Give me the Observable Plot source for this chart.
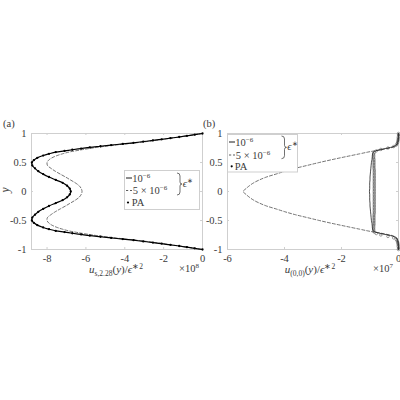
<!DOCTYPE html>
<html><head><meta charset="utf-8">
<script src="https://cdn.jsdelivr.net/npm/d3@7"></script>
<script src="https://cdn.jsdelivr.net/npm/@observablehq/plot@0.6"></script>
<style>
html,body{margin:0;padding:0;background:#fff;}
#wrap{position:relative;width:400px;height:400px;overflow:hidden;background:#fff;font-family:"Liberation Serif",serif;}
#wrap > svg{position:absolute;}
</style></head><body><div id="wrap"></div>
<script>
// ---------- data ----------
const yTicks = [-1, -0.5, 0, 0.5, 1];
const xTicksA = [-8, -6, -4, -2, 0];
const xTicksB = [-6, -4, -2, 0];

// panel (a): u_{s,2.28}(y)/eps*^2  (x 1e8)
const yA = [1, 0.98, 0.96, 0.94, 0.92, 0.9, 0.88, 0.86, 0.84, 0.82, 0.8, 0.78, 0.76, 0.74, 0.72, 0.7, 0.68, 0.65, 0.62, 0.58, 0.54, 0.5, 0.45, 0.4, 0.35, 0.3, 0.25, 0.2, 0.15, 0.1, 0.05, 0,
  -0.05, -0.1, -0.15, -0.2, -0.25, -0.3, -0.35, -0.4, -0.45, -0.5, -0.54, -0.58, -0.62, -0.65, -0.68, -0.7, -0.72, -0.74, -0.76, -0.78, -0.8, -0.82, -0.84, -0.86, -0.88, -0.9, -0.92, -0.94, -0.96, -0.98, -1];
const uSolidA = [0, -0.4, -0.8, -1.2, -1.65, -2.1, -2.55, -3.05, -3.55, -4.1, -4.7, -5.25, -5.8, -6.25, -6.7, -7.1, -7.55, -7.9, -8.2, -8.5, -8.68, -8.78, -8.76, -8.62, -8.45, -8.2, -7.9, -7.55, -7.2, -6.97, -6.83, -6.78,
  -6.83, -6.97, -7.2, -7.55, -7.9, -8.2, -8.45, -8.62, -8.76, -8.78, -8.68, -8.5, -8.2, -7.9, -7.55, -7.1, -6.7, -6.25, -5.8, -5.25, -4.7, -4.1, -3.55, -3.05, -2.55, -2.1, -1.65, -1.2, -0.8, -0.4, 0];
const uDashA = [0, -0.39, -0.78, -1.17, -1.6, -2.0, -2.45, -2.9, -3.4, -3.95, -4.5, -5.0, -5.45, -5.85, -6.22, -6.55, -6.87, -7.2, -7.48, -7.75, -7.92, -8.0, -7.98, -7.8, -7.58, -7.32, -7.05, -6.8, -6.55, -6.35, -6.24, -6.2,
  -6.24, -6.35, -6.55, -6.8, -7.05, -7.32, -7.58, -7.8, -7.98, -8.0, -7.92, -7.75, -7.48, -7.2, -6.87, -6.55, -6.22, -5.85, -5.45, -5.0, -4.5, -3.95, -3.4, -2.9, -2.45, -2.0, -1.6, -1.17, -0.78, -0.39, 0];
const uPAA = uSolidA;

// panel (b): u_{(0,0)}(y)/eps*^2  (x 1e7)
const yB = [1, 0.95, 0.9, 0.85, 0.8, 0.78, 0.76, 0.74, 0.72, 0.7, 0.68, 0.65, 0.6, 0.55, 0.5, 0.45, 0.4, 0.35, 0.3, 0.25, 0.2, 0.15, 0.1, 0.05, 0,
  -0.05, -0.1, -0.15, -0.2, -0.25, -0.3, -0.35, -0.4, -0.45, -0.5, -0.55, -0.6, -0.65, -0.68, -0.7, -0.72, -0.74, -0.76, -0.78, -0.8, -0.85, -0.9, -0.95, -1];
const uSolidB = [0, 0, -0.01, -0.03, -0.08, -0.15, -0.28, -0.48, -0.66, -0.8, -0.88, -0.91, -0.92, -0.93, -0.95, -0.96, -0.97, -0.98, -0.99, -1.0, -1.0, -1.01, -1.01, -1.01, -1.02,
  -1.01, -1.01, -1.01, -1.0, -1.0, -0.99, -0.98, -0.97, -0.96, -0.95, -0.93, -0.92, -0.91, -0.88, -0.8, -0.66, -0.48, -0.28, -0.15, -0.08, -0.03, -0.01, 0, 0];
const uDashB = [0, 0, -0.01, -0.02, -0.06, -0.12, -0.22, -0.4, -0.6, -0.85, -1.07, -1.36, -1.85, -2.33, -2.78, -3.2, -3.62, -3.98, -4.3, -4.63, -4.88, -5.08, -5.23, -5.35, -5.45,
  -5.35, -5.23, -5.08, -4.88, -4.63, -4.3, -3.98, -3.62, -3.2, -2.78, -2.33, -1.85, -1.36, -1.07, -0.85, -0.6, -0.4, -0.22, -0.12, -0.06, -0.02, -0.01, 0, 0];
const yPB = [1, 0.975, 0.95, 0.925, 0.9, 0.875, 0.85, 0.825, 0.8, 0.775, 0.75, 0.725, 0.7, 0.675, 0.65, 0.625, 0.6, 0.575, 0.55, 0.525, 0.5, 0.475, 0.45, 0.425, 0.4, 0.375, 0.35, 0.325, 0.3, 0.275, 0.25, 0.225, 0.2, 0.175, 0.15, 0.125, 0.1, 0.075, 0.05, 0.025, 0,
  -0.025, -0.05, -0.075, -0.1, -0.125, -0.15, -0.175, -0.2, -0.225, -0.25, -0.275, -0.3, -0.325, -0.35, -0.375, -0.4, -0.425, -0.45, -0.475, -0.5, -0.525, -0.55, -0.575, -0.6, -0.625, -0.65, -0.675, -0.7, -0.725, -0.75, -0.775, -0.8, -0.825, -0.85, -0.875, -0.9, -0.925, -0.95, -0.975, -1];
const uPAB = [0, 0, 0, -0.01, -0.01, -0.02, -0.03, -0.05, -0.08, -0.17, -0.37, -0.62, -0.78, -0.85, -0.87, -0.87, -0.87, -0.87, -0.86, -0.86, -0.86, -0.86, -0.86, -0.86, -0.86, -0.85, -0.85, -0.85, -0.85, -0.85, -0.85, -0.85, -0.85, -0.85, -0.85, -0.85, -0.85, -0.85, -0.85, -0.85, -0.85,
  -0.85, -0.85, -0.85, -0.85, -0.85, -0.85, -0.85, -0.85, -0.85, -0.85, -0.85, -0.85, -0.85, -0.85, -0.85, -0.86, -0.86, -0.86, -0.86, -0.86, -0.86, -0.86, -0.86, -0.87, -0.87, -0.87, -0.87, -0.85, -0.78, -0.62, -0.37, -0.17, -0.08, -0.05, -0.03, -0.02, -0.01, -0.01, 0, 0, 0];

// ---------- drawing ----------
const FONT = "Liberation Serif";
const FRAME = "#cfcfcf";
const TXT = "#3a3a3a";
const idx = a => d3.range(a.length);

function panel({width, ml, mr, xdom, xticks, tickLen, solid, dash, ySolid, pa, yPA, paStyle, solidWidth}) {
  return Plot.plot({
    width, height: 160,
    marginLeft: ml, marginRight: mr, marginTop: 23, marginBottom: 21,
    style: {fontFamily: FONT, fontSize: "10.5px", color: TXT, background: "transparent", overflow: "visible"},
    x: {domain: xdom},
    y: {domain: [-1, 1]},
    marks: [
      Plot.frame({stroke: FRAME}),
      Plot.ruleX(xticks, {x: d => d, y1: () => -1, y2: () => -1 + 0.035, stroke: FRAME}),
      Plot.ruleX(xticks, {x: d => d, y1: () => 1, y2: () => 1 - 0.035, stroke: FRAME}),
      Plot.ruleY(yTicks, {y: d => d, x1: () => xdom[0], x2: () => xdom[0] + tickLen, stroke: FRAME}),
      Plot.ruleY(yTicks, {y: d => d, x1: () => xdom[1], x2: () => xdom[1] - tickLen, stroke: FRAME}),
      Plot.axisX({ticks: xticks, tickSize: 0, tickPadding: 5, tickFormat: d => String(d), label: null, fill: TXT, fontFamily: FONT}),
      Plot.axisY({ticks: yTicks, tickSize: 0, tickPadding: 5, tickFormat: d => String(d), label: null, fill: TXT, fontFamily: FONT}),
      Plot.line(idx(dash), {x: i => dash[i], y: i => ySolid.dash[i], stroke: "#444", strokeWidth: 0.75, strokeDasharray: "3,2", curve: "catmull-rom"}),
      Plot.line(idx(solid), {x: i => solid[i], y: i => ySolid.solid[i], stroke: "#000", strokeWidth: solidWidth, curve: "catmull-rom"}),
      Plot.dot(idx(pa), {x: i => pa[i], y: i => yPA[i], ...paStyle})
    ]
  });
}

const wrap = document.getElementById("wrap");

const chartA = panel({
  width: 205, ml: 31, mr: 3, xdom: [-8.8, 0], xticks: xTicksA, tickLen: 0.1,
  solid: uSolidA, dash: uDashA, ySolid: {solid: yA, dash: yA},
  pa: uPAA, yPA: yA, paStyle: {r: 1.15, fill: "#000", stroke: null}, solidWidth: 1.2
});
chartA.style.left = "0px"; chartA.style.top = "110px";
wrap.appendChild(chartA);

const chartB = panel({
  width: 200, ml: 27, mr: 2, xdom: [-6, 0], xticks: xTicksB, tickLen: 0.07,
  solid: uSolidB, dash: uDashB, ySolid: {solid: yB, dash: yB},
  pa: uPAB, yPA: yPB, paStyle: {r: 1.25, fill: "none", stroke: "#333", strokeWidth: 0.45}, solidWidth: 0.7
});
chartB.style.left = "200px"; chartB.style.top = "110px";
wrap.appendChild(chartB);

// ---------- overlay: panel tags, axis labels, legends ----------
const SUP = (s, dy=-4, fs=7) => `<tspan font-size="${fs}" dy="${dy}">${s}</tspan>`;
const brace = (x, top, bot) => {
  const mid = (top + bot) / 2;
  return `<path d="M${x},${top} Q${x+3},${top} ${x+3},${top+3} L${x+3},${mid-2} Q${x+3},${mid} ${x+5},${mid} Q${x+3},${mid} ${x+3},${mid+2} L${x+3},${bot-3} Q${x+3},${bot} ${x},${bot}" fill="none" stroke="#333" stroke-width="0.7"/>`;
};
function legend(L) {
  return `
  <rect x="${L.bx}" y="${L.by}" width="${L.bw}" height="${L.bh}" fill="#fff" stroke="${FRAME}" stroke-width="1"/>
  <line x1="${L.lx0}" x2="${L.lx1}" y1="${L.r1}" y2="${L.r1}" stroke="#000" stroke-width="0.9"/>
  <text x="${L.tx}" y="${L.r1+3.6}">10${SUP("−6")}</text>
  <line x1="${L.lx0}" x2="${L.lx1}" y1="${L.r2}" y2="${L.r2}" stroke="#333" stroke-width="0.8" stroke-dasharray="2.2,1.8"/>
  <text x="${L.tx+0.5}" y="${L.r2+3.6}">5 × 10${SUP("−6")}</text>
  <circle cx="${L.dx}" cy="${L.r3}" r="1.1" fill="#000"/>
  <text x="${L.tx-0.5}" y="${L.r3+3.6}">PA</text>
  ${brace(L.brx, L.brt, L.brb)}
  <text x="${L.brx+5.8}" y="${(L.brt+L.brb)/2+2.5}"><tspan font-style="italic">ϵ</tspan>${SUP("∗", -3.5, 7)}</text>`;
}

const overlay = `
<svg xmlns="http://www.w3.org/2000/svg" width="400" height="400" font-family="${FONT}" font-size="10.5" fill="${TXT}" style="left:0;top:0">
  <text x="3" y="127">(a)</text>
  <text x="203" y="127">(b)</text>
  <text transform="translate(9,190) rotate(-90)" text-anchor="middle" font-style="italic" font-size="11.5">y</text>
  <text x="116" y="273" text-anchor="middle" font-size="11"><tspan font-style="italic">u</tspan><tspan font-size="7.5" dy="2.5">s,2.28</tspan><tspan dy="-2.5">(</tspan><tspan font-style="italic">y</tspan><tspan>)/</tspan><tspan font-style="italic">ϵ</tspan><tspan font-size="7.5" dy="-4.5">∗2</tspan></text>
  <text x="179" y="272">×10${SUP("8")}</text>
  <text x="310" y="273" text-anchor="middle" font-size="11"><tspan font-style="italic">u</tspan><tspan font-size="7.5" dy="2.5">(0,0)</tspan><tspan dy="-2.5">(</tspan><tspan font-style="italic">y</tspan><tspan>)/</tspan><tspan font-style="italic">ϵ</tspan><tspan font-size="7.5" dy="-4.5">∗2</tspan></text>
  <text x="373" y="272">×10${SUP("7")}</text>
  ${legend({bx: 124.5, by: 170.5, bw: 75, bh: 39, lx0: 126, lx1: 132, tx: 132.3, r1: 178, r2: 190.5, r3: 202.5, dx: 128, brx: 177, brt: 173, brb: 195})}
  ${legend({bx: 227.5, by: 134.5, bw: 70, bh: 37.5, lx0: 229, lx1: 235, tx: 235.3, r1: 142, r2: 155, r3: 166.3, dx: 231.7, brx: 281.5, brt: 136, brb: 158.7})}
</svg>`;
wrap.insertAdjacentHTML("beforeend", overlay);
</script></body></html>
